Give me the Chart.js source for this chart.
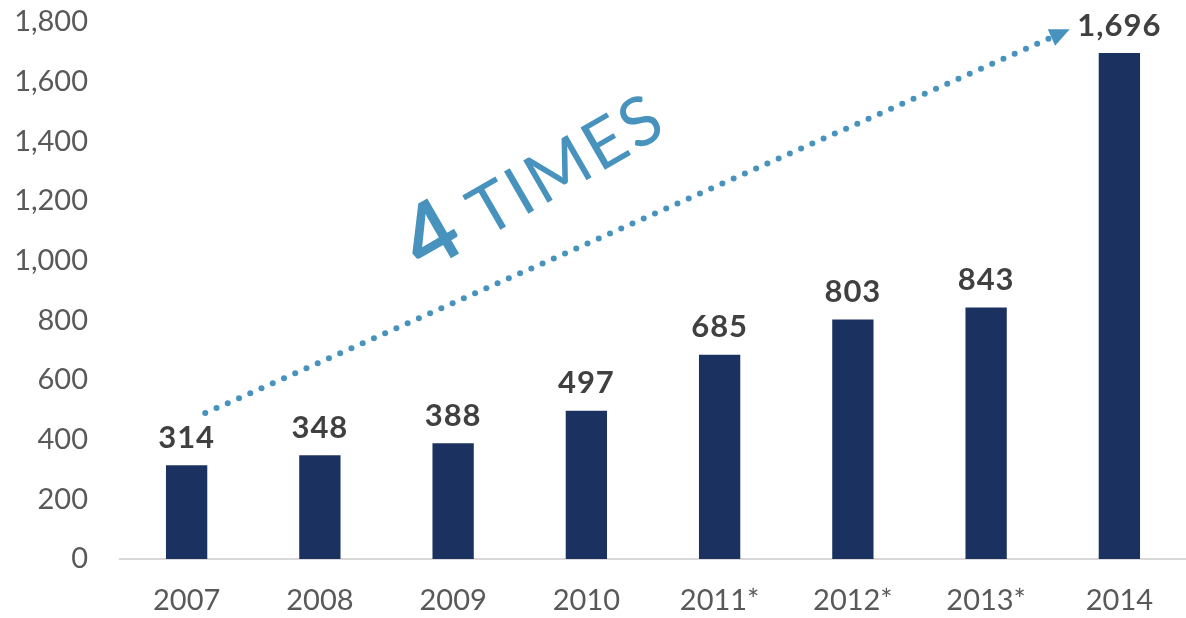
<!DOCTYPE html>
<html>
<head>
<meta charset="utf-8">
<script src="https://cdn.jsdelivr.net/npm/chart.js@4.4.0/dist/chart.umd.min.js"></script>
<style>
  html, body { margin: 0; padding: 0; background: #fff; }
  #wrap { width: 1186px; height: 618px; }
</style>
</head>
<body>
<div id="wrap"><canvas id="chart" width="1186" height="618"></canvas></div>
<script>
// data
const years = ['2007', '2008', '2009', '2010', '2011*', '2012*', '2013*', '2014'];
const values = [314, 348, 388, 497, 685, 803, 843, 1696];
// arrow start / end in data units (category index, value)
const arrowFrom = [0.14, 489];
const arrowTo = [6.6, 1770];
const arrowText = ['4', ' TIMES'];

const blue = '#4793bd';

const labelsPlugin = {
  id: 'labels',
  afterDatasetsDraw(chart) {
    const ctx = chart.ctx;
    const meta = chart.getDatasetMeta(0);
    ctx.save();
    ctx.fillStyle = '#404040';
    ctx.font = 'bold 31px Lato';
    ctx.letterSpacing = '1px';
    ctx.textAlign = 'center';
    ctx.textBaseline = 'bottom';
    meta.data.forEach((bar, i) => {
      ctx.fillText(values[i].toLocaleString('en-US'), bar.x, bar.y - 12);
    });
    ctx.restore();
  }
};

const arrowPlugin = {
  id: 'arrow',
  afterDraw(chart) {
    const ctx = chart.ctx;
    const xs = chart.scales.x, ys = chart.scales.y;
    const px = v => xs.getPixelForValue(0) + v * (xs.getPixelForValue(1) - xs.getPixelForValue(0));
    const x1 = px(arrowFrom[0]), y1 = ys.getPixelForValue(arrowFrom[1]);
    const x2 = px(arrowTo[0]), y2 = ys.getPixelForValue(arrowTo[1]);
    const ang = Math.atan2(y2 - y1, x2 - x1);
    const len = Math.hypot(x2 - x1, y2 - y1);
    ctx.save();
    ctx.fillStyle = blue;
    // dots
    const step = 12.3;
    for (let d = 0; d < len - 14; d += step) {
      ctx.beginPath();
      ctx.arc(x1 + Math.cos(ang) * d, y1 + Math.sin(ang) * d, 3, 0, Math.PI * 2);
      ctx.fill();
    }
    // head
    ctx.translate(x2, y2);
    ctx.rotate(ang);
    ctx.beginPath();
    ctx.moveTo(4, 0);
    ctx.lineTo(-16, -9);
    ctx.lineTo(-16, 9);
    ctx.closePath();
    ctx.fill();
    ctx.restore();

    // "4 TIMES"
    ctx.save();
    ctx.translate(px(1.78), ys.getPixelForValue(955));
    ctx.rotate(-30 * Math.PI / 180);
    ctx.fillStyle = blue;
    ctx.textBaseline = 'alphabetic';
    ctx.textAlign = 'left';
    ctx.font = 'bold 88px Lato';
    ctx.fillText(arrowText[0], 0, 0);
    const w = ctx.measureText(arrowText[0]).width;
    ctx.font = '68px Lato';
    ctx.letterSpacing = '3px';
    ctx.fillText(arrowText[1], w, 0);
    ctx.restore();
  }
};

new Chart(document.getElementById('chart'), {
  type: 'bar',
  data: {
    labels: years,
    datasets: [{
      data: values,
      backgroundColor: '#1b3260',
      borderColor: '#1b3260',
      borderWidth: 0,
      categoryPercentage: 1,
      barPercentage: 0.31
    }]
  },
  options: {
    responsive: false,
    animation: false,
    layout: { padding: { top: 22, right: 0, left: 14, bottom: 0 } },
    plugins: { legend: { display: false }, tooltip: { enabled: false } },
    scales: {
      x: {
        grid: { display: false, drawTicks: false },
        border: { display: true, color: '#d9d9d9', width: 2 },
        ticks: { color: '#595959', font: { family: 'Lato', size: 29 }, padding: 24, maxRotation: 0 },
        afterFit: s => { s.height = 59; s.paddingLeft = 0; s.paddingRight = 0; }
      },
      y: {
        min: 0,
        max: 1800,
        grid: { display: false, drawTicks: false },
        border: { display: false },
        ticks: {
          stepSize: 200,
          color: '#595959',
          font: { family: 'Lato', size: 29 },
          padding: 32,
          callback: v => v.toLocaleString('en-US')
        },
        afterFit: s => { s.width = 106; s.paddingTop = 0; s.paddingBottom = 0; }
      }
    }
  },
  plugins: [labelsPlugin, arrowPlugin]
});
</script>
</body>
</html>
